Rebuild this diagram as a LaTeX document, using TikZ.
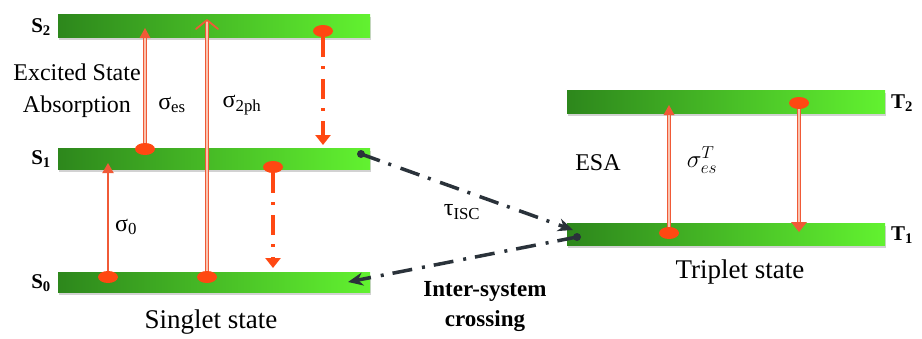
\documentclass[tikz,border=0pt]{standalone}
\usepackage{fontspec}
\setmainfont{Liberation Serif}
\usetikzlibrary{arrows.meta,shapes.geometric,shadows}
\definecolor{bardark}{RGB}{45,135,28}
\definecolor{barlight}{RGB}{98,242,48}
\definecolor{dotred}{RGB}{255,72,18}
\definecolor{arrred}{RGB}{240,90,55}
\definecolor{arrpale}{RGB}{250,195,175}
\definecolor{isc}{RGB}{42,50,58}
\begin{document}
\begin{tikzpicture}[x=1pt,y=-1pt,
 level/.style={rectangle, minimum height=22pt, inner sep=0pt, left color=bardark, right color=barlight, draw=none, drop shadow={shadow xshift=1pt, shadow yshift=-2.5pt, opacity=0.35}},
 lvllabel/.style={font=\fontsize{21}{24}\selectfont\bfseries, inner sep=0pt},
 edot/.style={ellipse, fill=dotred, minimum width=20pt, minimum height=12pt, inner sep=0pt},
 kdot/.style={circle, fill=isc, minimum size=8pt, inner sep=0pt},
 solidarr/.style={draw=arrred, line width=2pt, -{Triangle[length=10pt,width=11pt]}},
 dblarr/.style={draw=arrred, line width=0.9pt, double=arrpale, double distance=1.6pt},
 reddash/.style={draw=dotred, line width=3.5pt, dash pattern=on 20pt off 9pt on 3pt off 10pt, -{Triangle[length=10pt,width=15pt]}},
 iscarr/.style={draw=isc, line width=3.5pt, dash pattern=on 20pt off 9pt on 3pt off 10pt, -{Stealth[length=15pt,width=13pt]}},
 txt/.style={font=\fontsize{24}{32}\selectfont, inner sep=0pt},
 bigtxt/.style={font=\fontsize{27}{30}\selectfont, inner sep=0pt},
]
\useasboundingbox[fill=white] (0,0) rectangle (922,338);

% levels
\node[level, minimum width=312pt, minimum height=23pt] (S2) at (214,26) {};
\node[level, minimum width=312pt, minimum height=21pt] (S1) at (214,159) {};
\node[level, minimum width=312pt, minimum height=20pt] (S0) at (214,282.5) {};
\node[level, minimum width=318pt, minimum height=23pt] (T2) at (726,101.5) {};
\node[level, minimum width=318pt, minimum height=22pt] (T1) at (726,234) {};

% level labels
\node[lvllabel, anchor=east] (lS2) at (51,27) {S\textsubscript{2}};
\node[lvllabel, anchor=east] (lS1) at (51,159) {S\textsubscript{1}};
\node[lvllabel, anchor=east] (lS0) at (51,283) {S\textsubscript{0}};
\node[lvllabel, anchor=west] (lT2) at (891,103) {T\textsubscript{2}};
\node[lvllabel, anchor=west] (lT1) at (891,235) {T\textsubscript{1}};

% dots
\node[edot] (dA) at (108,277) {};
\node[edot] (dB) at (145,149) {};
\node[edot] (dC) at (207,277) {};
\node[edot] (dD) at (323,31) {};
\node[edot] (dE) at (273,167) {};
\node[edot] (dF) at (669,233) {};
\node[edot] (dG) at (799,103) {};
\node[kdot] (k1) at (361,154) {};
\node[kdot] (k2) at (577,237) {};

% tips
\coordinate (tA) at (108,163);
\coordinate (tB) at (145,28);
\coordinate (tC) at (207,20);
\coordinate (tD) at (323,145);
\coordinate (tE) at (273,268);
\coordinate (tF) at (669,105);
\coordinate (tG) at (799,232);
\coordinate (t1) at (573,230);
\coordinate (t2) at (348,282);

% singlet transitions
\draw[solidarr] (dA.north) -- (tA);
\draw[dblarr] (dB.north) -- ([shift={(0,9)}]tB);
\fill[arrred] (tB) -- ++(-5.5,10) -- ++(11,0) -- cycle;
\draw[dblarr] (dC.north) -- ([shift={(0,1)}]tC);
\draw[arrred, line width=1.8pt, line cap=round, line join=round] ([shift={(-11,9)}]tC) -- (tC) -- ([shift={(11,9)}]tC);
\draw[reddash] (dD.south) -- (tD);
\draw[reddash] (dE.south) -- (tE);

% triplet transitions
\draw[dblarr] (dF.north) -- ([shift={(0,9)}]tF);
\fill[arrred] (tF) -- ++(-5.5,10) -- ++(11,0) -- cycle;
\draw[dblarr] (dG.south) -- ([shift={(0,-9)}]tG);
\fill[arrred] (tG) -- ++(-8,-10) -- ++(16,0) -- cycle;

% inter-system crossing
\draw[iscarr] (k1.center) -- (t1);
\draw[iscarr] (k2.center) -- (t2);

% texts
\node[txt, align=center] (esa) at (77,91) {Excited State\\Absorption};
\node[txt] (ses) at (172,105) {σ\textsubscript{es}};
\node[txt] (s2ph) at (242,105) {σ\textsubscript{2ph}};
\node[txt] (s0) at (126,227) {σ\textsubscript{0}};
\node[bigtxt] (singlet) at (211,322) {Singlet state};
\node[txt] (tisc) at (462,212) {τ\textsubscript{ISC}};
\node[txt, align=center, font=\fontsize{23}{30}\selectfont\bfseries] (isctxt) at (485,307) {Inter-system\\crossing};
\node[txt] (esaT) at (598,163) {ESA};
\node[bigtxt] (sT) at (702,160) {$\sigma^{T}_{es}$};
\node[bigtxt] (triplet) at (740,272) {Triplet state};
\end{tikzpicture}
\end{document}
